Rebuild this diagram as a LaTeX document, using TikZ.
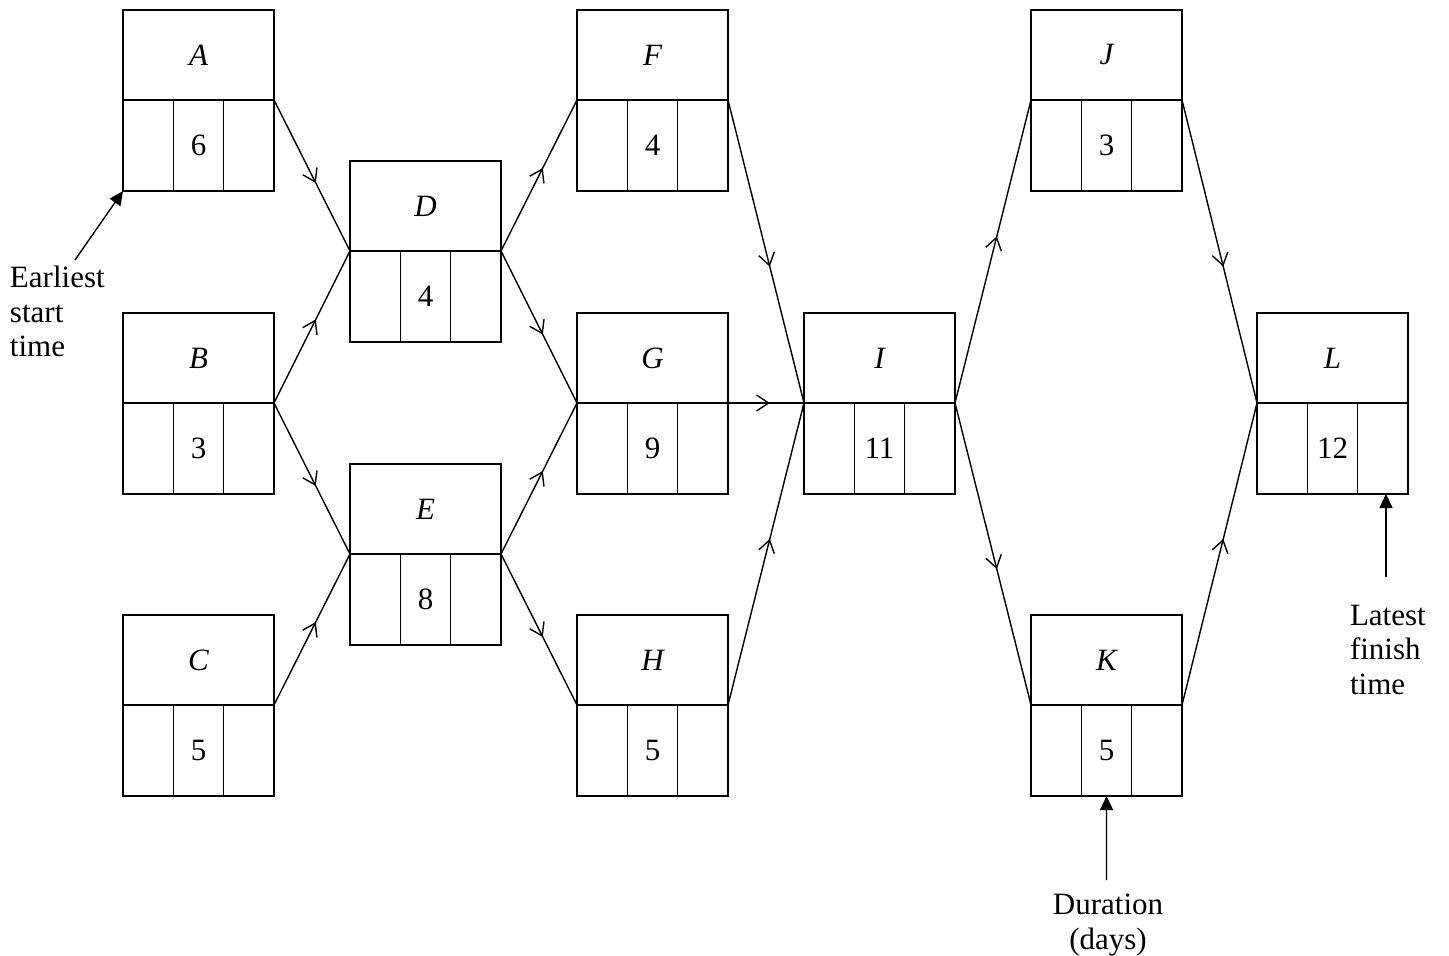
\documentclass[tikz,border=0pt]{standalone}
\usepackage{fontspec}
\setmainfont{Liberation Serif}
\usepackage{tikz}
\usetikzlibrary{positioning}
\usetikzlibrary{calc}
\usetikzlibrary{arrows.meta}
\usetikzlibrary{decorations.markings}

\begin{document}
\begin{tikzpicture}[
		x=0.5pt, y=-0.5pt,
		line width=0.7pt,
		every node/.style = {
			font=\fontsize{15.5}{17.25}\selectfont,
			outer sep=0pt,
			inner sep=0pt
		},
		head/.style = {
			shape=rectangle,
			draw,
			anchor=north west,
			minimum width=75.5pt,
			minimum height=45pt,
			font=\fontsize{15.5}{17.25}\selectfont\itshape
		},
		cell/.style = {
			shape=rectangle,
			draw,
			minimum width=25.17pt,
			minimum height=45.5pt
		},
		link/.style = {
			postaction={decorate},
			decoration={markings, mark=at position 0.55 with {\arrow{Straight Barb[length=6pt,width=8pt]}}}
		},
		pointer/.style = {
			-{Triangle[length=7pt,width=6.5pt]}
		},
		note/.style = {
			align=left
		}
		]
		\useasboundingbox (0,0) rectangle (1449,956);

		% activity boxes: name / left / top / duration
		\foreach \n/\x/\y/\d in {A/123/10/6, B/123/313/3, C/123/615/5,
				D/350/161/4, E/350/464/8,
				F/577/10/4, G/577/313/9, H/577/615/5,
				I/804/313/11,
				J/1031/10/3, K/1031/615/5,
				L/1257/313/12} {
			\node[head] (\n) at (\x,\y) {\n};
			\node[cell, anchor=north west] (\n-l) at (\n.south west) {};
			\node[cell, right=0pt of \n-l] (\n-d) {\d};
			\node[cell, right=0pt of \n-d] (\n-r) {};
		}

		% precedences
		\foreach \s/\t in {A/D, B/D, B/E, C/E, D/F, D/G, E/G, E/H,
				F/I, G/I, H/I, I/J, I/K, J/L, K/L}
			\draw[link] (\s.south east) -- (\t.south west);

		% key
		\node[note, anchor=north west] (est) at (10,266) {Earliest\\start\\time};
		\node[note, anchor=north west] (lft) at (1350,605) {Latest\\finish\\time};
		\node[align=center, anchor=north] (dur) at (1108,894) {Duration\\(days)};

		\coordinate (est-tail) at (75,260);
		\coordinate (lft-tail) at (1386,577);
		\coordinate (dur-tail) at (1106.5,880);
		\draw[pointer] (est-tail) -- (A-l.south west);
		\draw[pointer] (lft-tail) -- (lft-tail |- L-r.south);
		\draw[pointer] (dur-tail) -- (K-d.south);
	\end{tikzpicture}
\end{document}
